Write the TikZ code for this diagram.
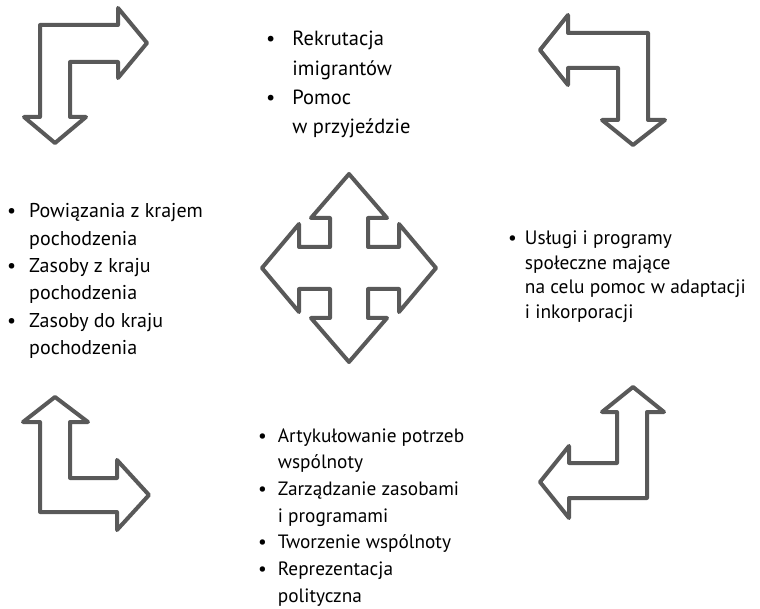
\documentclass[tikz,border=0pt]{standalone}
\usepackage{fontspec}
\setmainfont{PT Sans}
\usetikzlibrary{positioning}
\definecolor{arrowgray}{RGB}{89,89,89}

\begin{document}
\begin{tikzpicture}[x=1pt, y=-1pt,
    arrowshape/.style={draw=arrowgray, line width=4pt, line join=round},
    listtext/.style={anchor=base west, inner sep=0pt, align=left}]
		\useasboundingbox (0, 0) rectangle (760, 609);
		
		% Corner arrows
		\draw[arrowshape] (40, 25) -- (118, 25) -- (118, 8) -- (147, 43) -- (118, 78) -- (118, 62)
		-- (70, 62) -- (70, 117) -- (86, 117) -- (55, 143) -- (24, 117) -- (40, 117) -- cycle;
		\draw[arrowshape] (648, 33) -- (568, 33) -- (568, 15) -- (540, 50) -- (568, 85) -- (568, 68)
		-- (618, 68) -- (618, 120) -- (602, 120) -- (633, 145) -- (665, 120) -- (648, 120) -- cycle;
		\draw[arrowshape] (40, 512) -- (40, 422) -- (23, 422) -- (55, 397) -- (88, 422) -- (70, 422)
		-- (70, 478) -- (117, 478) -- (117, 460) -- (149, 495) -- (117, 530) -- (117, 512) -- cycle;
		\draw[arrowshape] (647, 498) -- (647, 412) -- (664, 412) -- (633, 387) -- (602, 412) -- (617, 412)
		-- (617, 463) -- (569, 463) -- (569, 446) -- (540, 482) -- (569, 518) -- (569, 498) -- cycle;
		
		% Arrow in four directions
		\begin{scope}[shift={(349, 268)}]
			\draw[arrowshape] (0, -94) -- (38, -50) -- (19, -50) -- (19, -21) -- (50, -21) -- (50, -44)
			-- (87, 0) -- (50, 44) -- (50, 21) -- (19, 21) -- (19, 50) -- (38, 50) -- (0, 94)
			-- (-38, 50) -- (-19, 50) -- (-19, 21) -- (-50, 21) -- (-50, 44) -- (-87, 0)
			-- (-50, -44) -- (-50, -21) -- (-19, -21) -- (-19, -50) -- (-38, -50) -- cycle;
		\end{scope}
		
		% Lists
		\node[listtext, font=\fontsize{20.5}{29.3}\selectfont] (topList) at (266, 46) {%
			\begin{tabular}[t]{@{}l@{\hspace{17pt}}l@{}}
				\textbullet & Rekrutacja\\
				& imigrantów\\
				\textbullet & Pomoc\\
				& w przyjeździe
		\end{tabular}};
		\node[listtext, font=\fontsize{20}{27.3}\selectfont] (leftList) at (7, 218) {%
			\begin{tabular}[t]{@{}l@{\hspace{13pt}}l@{}}
				\textbullet & Powiązania z krajem\\
				& pochodzenia\\
				\textbullet & Zasoby z kraju\\
				& pochodzenia\\
				\textbullet & Zasoby do kraju\\
				& pochodzenia
		\end{tabular}};
		\node[listtext, font=\fontsize{19.4}{24.4}\selectfont] (rightList) at (508, 245) {%
			\begin{tabular}[t]{@{}l@{\hspace{8pt}}l@{}}
				\textbullet & Usługi i programy\\
				& społeczne mające\\
				& na celu pomoc w adaptacji\\
				& i inkorporacji
		\end{tabular}};
		\node[listtext, font=\fontsize{19.3}{26.7}\selectfont] (bottomList) at (258, 442) {%
			\begin{tabular}[t]{@{}l@{\hspace{11pt}}l@{}}
				\textbullet & Artykułowanie potrzeb\\
				& wspólnoty\\
				\textbullet & Zarządzanie zasobami\\
				& i programami\\
				\textbullet & Tworzenie wspólnoty\\
				\textbullet & Reprezentacja\\
				& polityczna
		\end{tabular}};
	\end{tikzpicture}
\end{document}
